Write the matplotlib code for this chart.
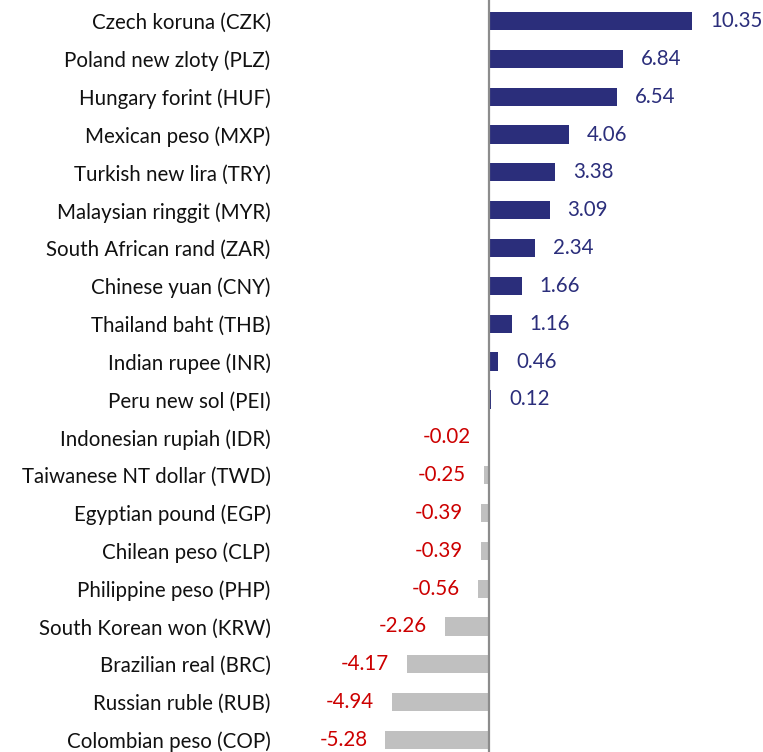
import matplotlib.pyplot as plt

currencies = [
    "Czech koruna (CZK)", "Poland new zloty (PLZ)", "Hungary forint (HUF)",
    "Mexican peso (MXP)", "Turkish new lira (TRY)", "Malaysian ringgit (MYR)",
    "South African rand (ZAR)", "Chinese yuan (CNY)", "Thailand baht (THB)",
    "Indian rupee (INR)", "Peru new sol (PEI)", "Indonesian rupiah (IDR)",
    "Taiwanese NT dollar (TWD)", "Egyptian pound (EGP)", "Chilean peso (CLP)",
    "Philippine peso (PHP)", "South Korean won (KRW)", "Brazilian real (BRC)",
    "Russian ruble (RUB)", "Colombian peso (COP)",
]
changes = [10.35, 6.84, 6.54, 4.06, 3.38, 3.09, 2.34, 1.66, 1.16, 0.46, 0.12,
           -0.02, -0.25, -0.39, -0.39, -0.56, -2.26, -4.17, -4.94, -5.28]

pos_color = "#2B2E7B"
neg_color = "#C0C0C0"
pos_text = "#2B2E7B"
neg_text = "#CC0000"

plt.rcParams['font.family'] = ['Lato', 'DejaVu Sans']

fig = plt.figure(figsize=(7.63, 7.52), dpi=100)
ax = fig.add_axes([290 / 763, 0, 473 / 763, 1])

ypos = list(range(len(currencies)))
colors = [pos_color if v >= 0 else neg_color for v in changes]
ax.barh(ypos, changes, height=0.48, color=colors)
ax.axvline(0, color="#8C8C8C", lw=1.6)

for y, v in zip(ypos, changes):
    if v >= 0:
        ax.annotate(f"{v:.2f}", (v, y), xytext=(13, 0), textcoords="offset points",
                    ha="left", va="center", color=pos_text, fontsize=14.8)
    else:
        ax.annotate(f"{v:.2f}", (v, y), xytext=(-13, 0), textcoords="offset points",
                    ha="right", va="center", color=neg_text, fontsize=14.8)

ax.set_yticks(ypos)
ax.set_yticklabels(currencies, fontsize=14.8, color="#111111")
ax.tick_params(axis="y", length=0, pad=14)
ax.set_xticks([])
for s in ax.spines.values():
    s.set_visible(False)

ax.set_xlim(-10.15, 13.98)
ax.set_ylim(19.317, -0.555)

fig.savefig("out.png", dpi=100)
